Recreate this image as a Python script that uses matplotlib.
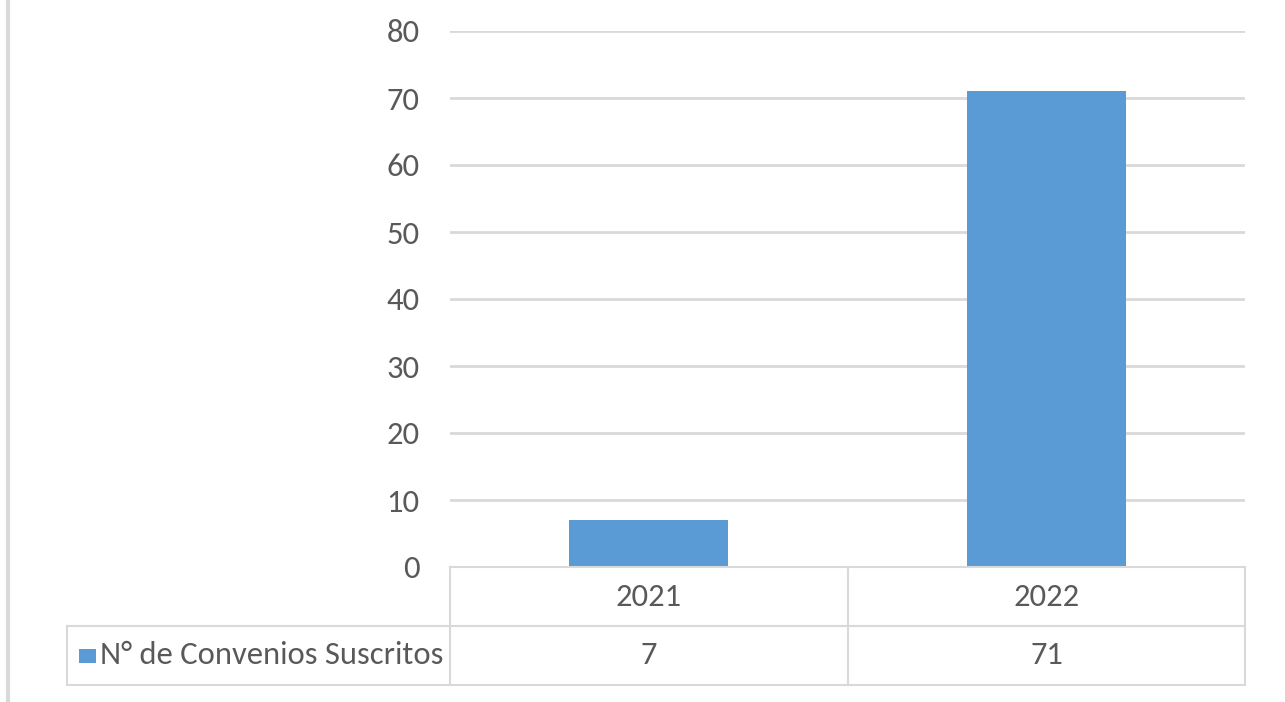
import matplotlib
matplotlib.use("Agg")
import matplotlib.pyplot as plt
from matplotlib.lines import Line2D
from matplotlib.patches import Rectangle

years = ["2021", "2022"]
convenios = [7, 71]
series_name = "N° de Convenios Suscritos"
yticks = [0, 10, 20, 30, 40, 50, 60, 70, 80]

W, H = 1285, 702
BAR = "#5b9bd5"
GRID = "#d9d9d9"
TXT = "#595959"
FS = 23.5

plt.rcParams["font.family"] = ["Carlito", "DejaVu Sans"]


def fx(px):
    return px / W


def fy(py):
    return 1 - py / H


def main():
    fig = plt.figure(figsize=(W / 100, H / 100), dpi=100)

    # plot area
    ax = fig.add_axes([fx(450), fy(567), fx(1245) - fx(450), fy(31) - fy(567)])
    x = range(len(years))
    ax.bar(x, convenios, width=0.4, color=BAR, zorder=3)
    ax.set_xlim(-0.5, len(years) - 0.5)
    ax.set_ylim(0, 80)
    ax.set_yticks(yticks)
    ax.set_yticklabels([str(t) for t in yticks], fontsize=FS, color=TXT)
    ax.tick_params(axis="y", length=0, pad=22)
    ax.set_xticks([])
    ax.grid(axis="y", color=GRID, linewidth=2, zorder=0)
    for s in ax.spines.values():
        s.set_visible(False)

    # data table
    left_px, row1_px, row2_px, bot_px = 67, 567, 626, 685
    col_px = [450, 848, 1245]
    lw = 1.5
    lines = [
        ((col_px[0], col_px[-1]), (row1_px, row1_px)),
        ((left_px, col_px[-1]), (row2_px, row2_px)),
        ((left_px, col_px[-1]), (bot_px, bot_px)),
        ((left_px, left_px), (row2_px, bot_px)),
    ]
    for c in col_px:
        lines.append(((c, c), (row1_px, bot_px)))
    for xs, ys in lines:
        fig.add_artist(Line2D([fx(v) for v in xs], [fy(v) for v in ys],
                              color=GRID, linewidth=lw))

    for i, yr in enumerate(years):
        cx = (col_px[i] + col_px[i + 1]) / 2
        fig.text(fx(cx), fy((row1_px + row2_px) / 2), yr, ha="center",
                 va="center", fontsize=FS, color=TXT)
        fig.text(fx(cx), fy((row2_px + bot_px) / 2), str(convenios[i]),
                 ha="center", va="center", fontsize=FS, color=TXT)

    fig.add_artist(Rectangle((fx(79), fy(663)), fx(96) - fx(79), fy(649) - fy(663),
                             facecolor=BAR, edgecolor="none"))
    fig.text(fx(100), fy((row2_px + bot_px) / 2), series_name, ha="left",
             va="center", fontsize=FS, color=TXT)

    # outer frame line on the left
    fig.add_artist(Line2D([fx(8), fx(8)], [0, 1], color=GRID, linewidth=3))

    fig.savefig("out.png", dpi=100, facecolor="white")


if __name__ == "__main__":
    main()
